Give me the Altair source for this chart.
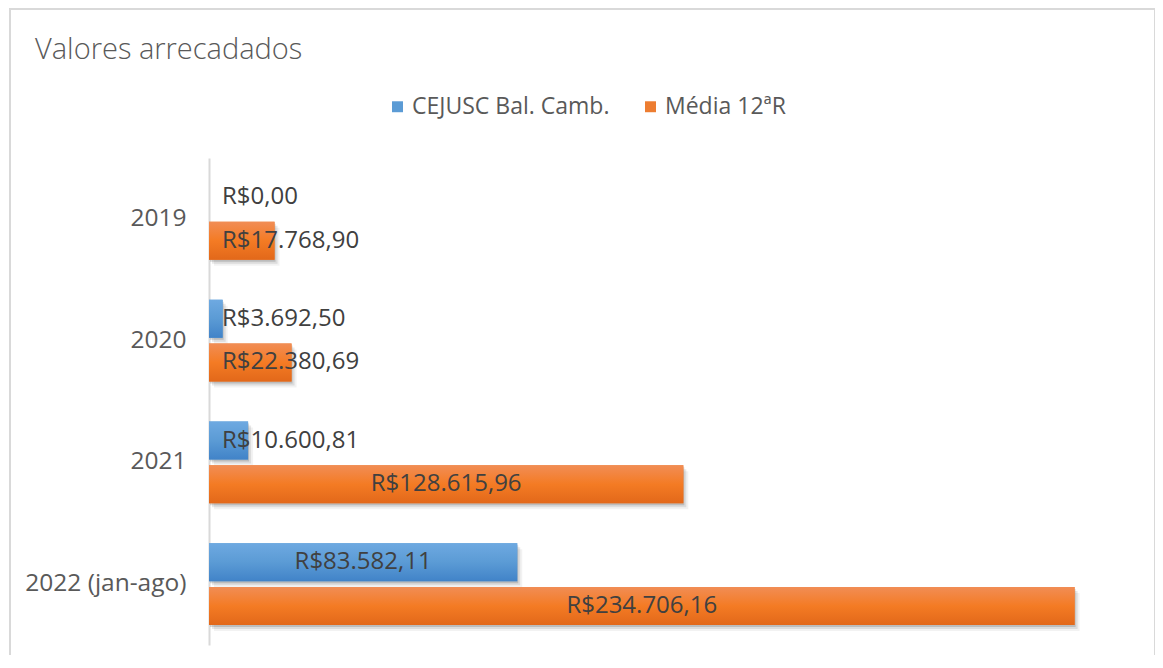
import altair as alt
import pandas as pd

# ---- data ----
years = ["2019", "2020", "2021", "2022 (jan-ago)"]
series_names = ["CEJUSC Bal. Camb.", "Média 12ªR"]
cejusc_values = [0.00, 3692.50, 10600.81, 83582.11]
media_values = [17768.90, 22380.69, 128615.96, 234706.16]
chart_title = "Valores arrecadados"


def brl(v):
    s = f"{v:,.2f}"
    return "R$" + s.replace(",", "X").replace(".", ",").replace("X", ".")


rows = []
for y, v in zip(years, cejusc_values):
    rows.append({"ano": y, "serie": series_names[0], "valor": v, "rotulo": brl(v)})
for y, v in zip(years, media_values):
    rows.append({"ano": y, "serie": series_names[1], "valor": v, "rotulo": brl(v)})
df = pd.DataFrame(rows)

FONT = "Open Sans"
BLUE = "#5b9bd5"
ORANGE = "#ed7d31"
BAND = 487 / 4 * (1 - 0.3285)

y_enc = alt.Y(
    "ano:N",
    sort=years,
    scale=alt.Scale(type="band", paddingInner=0.3285, paddingOuter=0.1643),
    axis=alt.Axis(
        title=None,
        ticks=False,
        grid=False,
        domainColor="#d9d9d9",
        domainWidth=2,
        labelFont=FONT,
        labelFontSize=24.5,
        labelColor="#595959",
        labelPadding=23,
        labelLimit=300,
    ),
)


def yoff(shift=0):
    return alt.YOffset(
        "serie:N",
        sort=series_names,
        scale=alt.Scale(
            type="band",
            domain=series_names,
            range=[shift, BAND + shift],
            paddingInner=0.13,
            paddingOuter=0,
        ),
    )


x_enc = alt.X("valor:Q", scale=alt.Scale(domain=[0, 250000], nice=False), axis=None)

base = alt.Chart(df)

# decorative chart frame
frame = base.mark_rect(fill=None, stroke="#d9d9d9", strokeWidth=1.5, clip=False).encode(
    x=alt.value(-199), x2=alt.value(946), y=alt.value(-149), y2=alt.value(520)
)

# chart title (drawn as text so that it sits inside the frame)
title = alt.Chart(pd.DataFrame({"t": [chart_title]})).mark_text(
    align="left", baseline="alphabetic", font=FONT, fontSize=29, fontWeight=300,
    color="#595959",
).encode(x=alt.value(-174), y=alt.value(-99), text="t:N")

# soft shadows (stacked translucent copies, shifted right and down)
shadows = []
for dx, dy, op in [(1, 2, 0.14), (3, 4, 0.09), (5, 6, 0.05)]:
    shadows.append(
        base.mark_bar(color="#000000", opacity=op, xOffset=dx).encode(
            y=y_enc, yOffset=yoff(dy), x=x_enc
        ).transform_filter("datum.valor > 0")
    )

flat = base.mark_bar().encode(
    y=y_enc,
    yOffset=yoff(),
    x=x_enc,
    color=alt.Color(
        "serie:N",
        sort=series_names,
        scale=alt.Scale(domain=series_names, range=[BLUE, ORANGE]),
        legend=alt.Legend(
            title=None,
            orient="none",
            legendX=177,
            legendY=-63,
            direction="horizontal",
            symbolType="square",
            symbolSize=120,
            symbolStrokeWidth=0,
            labelFont=FONT,
            labelFontSize=23,
            labelColor="#595959",
            labelOffset=3,
            labelLimit=400,
            columnPadding=29,
        ),
    ),
)


def grad(top, mid, bottom):
    return alt.Gradient(
        gradient="linear",
        x1=0, y1=0, x2=0, y2=1,
        stops=[
            alt.GradientStop(color=top, offset=0),
            alt.GradientStop(color=mid, offset=0.5),
            alt.GradientStop(color=bottom, offset=1),
        ],
    )


blue_bars = base.mark_bar(fill=grad("#6ea9e1", "#5b9bd5", "#4183c8")).encode(
    y=y_enc, yOffset=yoff(), x=x_enc
).transform_filter(alt.datum.serie == series_names[0])

orange_bars = base.mark_bar(fill=grad("#f18d55", "#f47b24", "#e2681a")).encode(
    y=y_enc, yOffset=yoff(), x=x_enc
).transform_filter(alt.datum.serie == series_names[1])

label_props = dict(font=FONT, fontSize=24, color="#404040", baseline="middle")

labels_small = base.mark_text(align="left", **label_props).encode(
    y=y_enc, yOffset=yoff(), x=alt.value(13), text="rotulo:N"
).transform_filter("datum.valor < 50000")

labels_big = base.mark_text(align="center", **label_props).encode(
    y=y_enc, yOffset=yoff(),
    x=alt.X("meio:Q", scale=alt.Scale(domain=[0, 250000], nice=False), axis=None),
    text="rotulo:N",
).transform_filter("datum.valor >= 50000").transform_calculate(meio="datum.valor / 2")

chart = (
    alt.layer(frame, title, *shadows, flat, blue_bars, orange_bars, labels_small, labels_big)
    .resolve_scale(yOffset="independent")
    .properties(
        width=922,
        height=487,
        autosize=alt.AutoSizeParams(type="none"),
        padding={"left": 201, "top": 150, "right": 24, "bottom": 10},
    )
    .configure_view(stroke=None)
)

chart.save("out.html", embed_options={"renderer": "svg", "actions": False})
